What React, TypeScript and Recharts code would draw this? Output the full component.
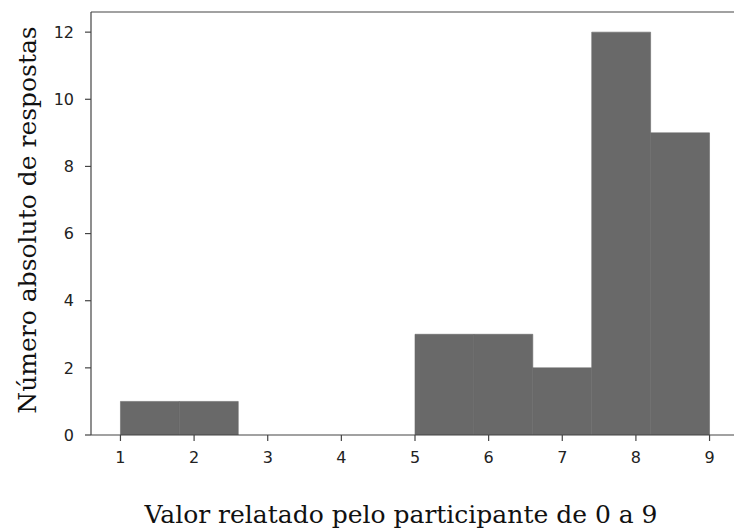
import React from 'react';
import { ComposedChart, Bar, XAxis, YAxis, ReferenceLine, Label } from 'recharts';

// histogram: 10 bins between 1 and 9
const binEdges = [1, 1.8, 2.6, 3.4, 4.2, 5, 5.8, 6.6, 7.4, 8.2, 9];
const counts = [1, 1, 0, 0, 0, 3, 3, 2, 12, 9];
const xTicks = [1, 2, 3, 4, 5, 6, 7, 8, 9];
const yTicks = [0, 2, 4, 6, 8, 10, 12];

const xLabel = 'Valor relatado pelo participante de 0 a 9';
const yLabel = 'Número absoluto de respostas';

const data = counts.map((count, i) => ({
  mid: (binEdges[i] + binEdges[i + 1]) / 2,
  count,
}));

const CHART_W = 745;
const CHART_H = 528;
const PLOT_LEFT = 91;
const MARGIN_RIGHT = 6;
const PLOT_W = CHART_W - PLOT_LEFT - MARGIN_RIGHT;
const X_DOMAIN: [number, number] = [0.6, 9.4];
const BIN_W = binEdges[1] - binEdges[0];
// a hair under the full band so recharts does not shrink the bars
const barPx = (BIN_W / (X_DOMAIN[1] - X_DOMAIN[0])) * PLOT_W - 0.02;

const barColor = '#696969';
const spine = '#444';
const tickStyle = { fontFamily: '"DejaVu Sans", sans-serif', fontSize: 16, fill: '#222' };
const labelFont = '"DejaVu Serif", serif';

const YTitle = () => (
  <text
    x={36}
    y={220}
    transform="rotate(-90 36 220)"
    textAnchor="middle"
    fontFamily={labelFont}
    fontSize={25}
    fill="#111"
  >
    {yLabel}
  </text>
);

const XTitle = () => (
  <text x={401} y={523} textAnchor="middle" fontFamily={labelFont} fontSize={25} fill="#111">
    {xLabel}
  </text>
);

export default function App() {
  return (
    <div
      style={{
        position: 'absolute',
        left: 0,
        top: 0,
        width: 734,
        height: 528,
        overflow: 'hidden',
        background: '#fff',
      }}
    >
      <ComposedChart
        width={CHART_W}
        height={CHART_H}
        data={data}
        margin={{ top: 12, right: MARGIN_RIGHT, bottom: 0, left: 0 }}
        barCategoryGap={0}
        barGap={0}
      >
        <XAxis
          dataKey="mid"
          type="number"
          domain={X_DOMAIN}
          ticks={xTicks}
          allowDataOverflow
          height={93}
          tick={tickStyle}
          tickSize={6}
          tickMargin={11}
          axisLine={{ stroke: spine, strokeWidth: 1.2 }}
          tickLine={{ stroke: spine, strokeWidth: 1.2 }}
        >
          <Label content={<XTitle />} />
        </XAxis>
        <YAxis
          type="number"
          domain={[0, 12.6]}
          ticks={yTicks}
          allowDataOverflow
          width={PLOT_LEFT}
          tick={tickStyle}
          tickSize={6}
          tickMargin={11}
          axisLine={{ stroke: spine, strokeWidth: 1.2 }}
          tickLine={{ stroke: spine, strokeWidth: 1.2 }}
        >
          <Label content={<YTitle />} />
        </YAxis>
        <Bar
          dataKey="count"
          fill={barColor}
          stroke={barColor}
          strokeWidth={0.6}
          barSize={barPx}
          isAnimationActive={false}
        />
        <ReferenceLine y={12.6} stroke={spine} strokeWidth={1.2} />
      </ComposedChart>
    </div>
  );
}
